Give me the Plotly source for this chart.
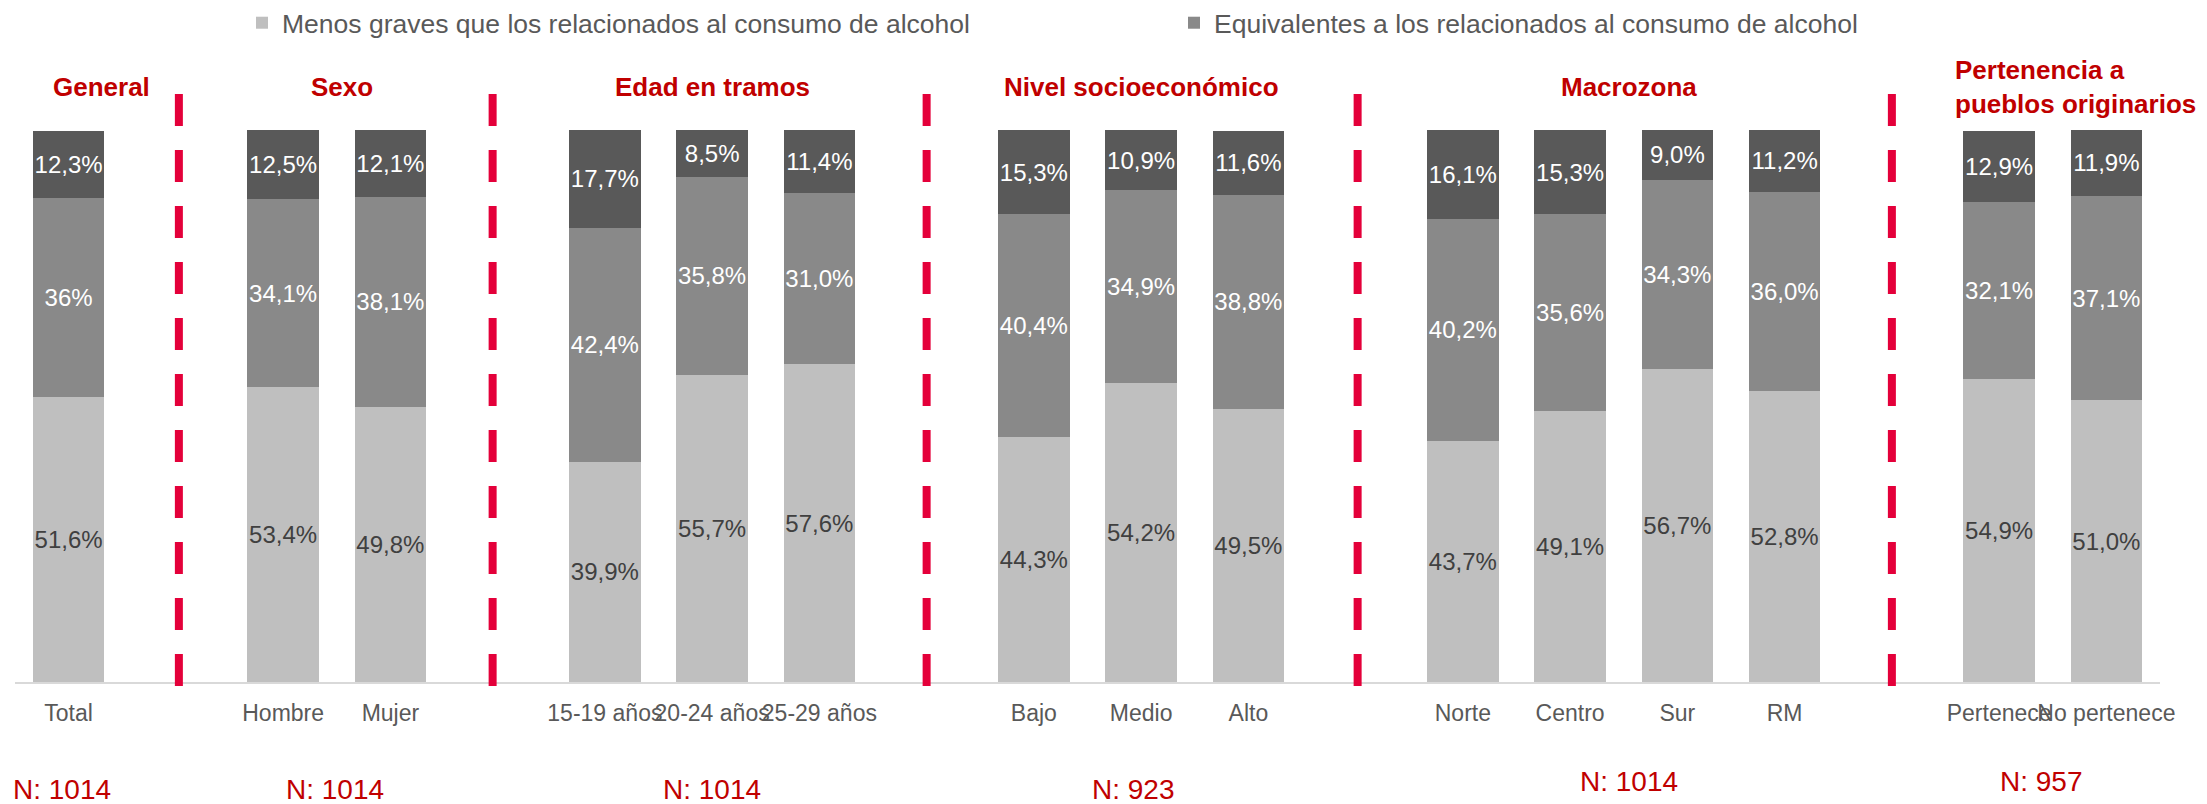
import plotly.graph_objects as go

# ---------------- data ----------------
groups = ["General", "Sexo", "Edad en tramos", "Nivel socioeconómico", "Macrozona",
          "Pertenencia a<br>pueblos originarios"]
group_categories = [
    ["Total"],
    ["Hombre", "Mujer"],
    ["15-19 años", "20-24 años", "25-29 años"],
    ["Bajo", "Medio", "Alto"],
    ["Norte", "Centro", "Sur", "RM"],
    ["Pertenece", "No pertenece"],
]
group_n = [1014, 1014, 1014, 923, 1014, 957]

menos_graves = [51.6, 53.4, 49.8, 39.9, 55.7, 57.6, 44.3, 54.2, 49.5, 43.7, 49.1, 56.7, 52.8, 54.9, 51.0]
equivalentes = [36.0, 34.1, 38.1, 42.4, 35.8, 31.0, 40.4, 34.9, 38.8, 40.2, 35.6, 34.3, 36.0, 32.1, 37.1]
mas_graves = [12.3, 12.5, 12.1, 17.7, 8.5, 11.4, 15.3, 10.9, 11.6, 16.1, 15.3, 9.0, 11.2, 12.9, 11.9]

series_names = [
    "Menos graves que los relacionados al consumo de alcohol",
    "Equivalentes a los relacionados al consumo de alcohol",
    "Más graves que los relacionados al consumo de alcohol",
]

# ---------------- helpers ----------------
def fmt(v):
    return f"{v:.1f}".replace(".", ",") + "%"

# slot positions: one empty slot between groups
categories, xpos, sep_slots, group_centers = [], [], [], []
slot = 0
for gi, cats in enumerate(group_categories):
    start = slot
    for c in cats:
        categories.append(c)
        xpos.append(slot)
        slot += 1
    group_centers.append((start + slot - 1) / 2)
    if gi < len(group_categories) - 1:
        sep_slots.append(slot)
        slot += 1
n_slots = slot

mid_text = [fmt(v) for v in equivalentes]
mid_text[0] = "36%"

FONT = "Liberation Sans, Arial, sans-serif"
RED_T = "#C00000"
RED_L = "#E4003A"
LBL = 24

fig = go.Figure()
fig.add_trace(go.Bar(
    x=xpos, y=menos_graves, name=series_names[0],
    marker=dict(color="#BFBFBF", line=dict(width=0)),
    text=[fmt(v) for v in menos_graves], textposition="inside", insidetextanchor="middle",
    textangle=0, textfont=dict(color="#404040", size=LBL, family=FONT),
    hoverinfo="skip",
))
fig.add_trace(go.Bar(
    x=xpos, y=equivalentes, name=series_names[1],
    marker=dict(color="#898989", line=dict(width=0)),
    text=mid_text, textposition="inside", insidetextanchor="middle",
    textangle=0, textfont=dict(color="white", size=LBL, family=FONT),
    hoverinfo="skip",
))
fig.add_trace(go.Bar(
    x=xpos, y=mas_graves, name=series_names[2], showlegend=False,
    marker=dict(color="#595959", line=dict(width=0)),
    text=[fmt(v) for v in mas_graves], textposition="inside", insidetextanchor="middle",
    textangle=0, textfont=dict(color="white", size=LBL, family=FONT),
    hoverinfo="skip",
))

# plot geometry
W, H = 2207, 804
ml, mr, mt, mb = 15, 47, 130, 122
ph = H - mt - mb
pw = W - ml - mr

def py(px_from_top):
    return (H - mb - px_from_top) / ph

def px_paper(s, shift=0):
    return (s + 0.5) / n_slots + shift / pw

# dashed separators
sep_shift = [3, -5, 0, 2, 0]
for i, s in enumerate(sep_slots):
    xx = px_paper(s, sep_shift[i])
    fig.add_shape(type="line", xref="paper", yref="paper",
                  x0=xx, x1=xx, y0=py(94), y1=py(686),
                  line=dict(color=RED_L, width=8, dash="32px,24px"))

# group titles
title_shift = [33, 5, 0, 0, 5, -100]
for gi, g in enumerate(groups):
    last = gi == len(groups) - 1
    fig.add_annotation(x=group_centers[gi], xref="x", y=py(87), yref="paper",
                       text=g, showarrow=False, xshift=title_shift[gi],
                       xanchor="left" if last else "center", yanchor="middle",
                       align="left", font=dict(family=FONT, size=26, color=RED_T, weight="bold"))

# N labels
n_shift = [-7, -2, 0, -8, 5, -11]
n_y = [789, 789, 789, 789, 781, 781]
for gi, n in enumerate(group_n):
    fig.add_annotation(x=group_centers[gi], xref="x", y=py(n_y[gi]), yref="paper",
                       text=f"N: {n}", showarrow=False, xshift=n_shift[gi],
                       xanchor="center", yanchor="middle",
                       font=dict(family=FONT, size=28, color=RED_T))

fig.update_layout(
    width=W, height=H,
    margin=dict(l=ml, r=mr, t=mt, b=mb, autoexpand=False),
    barmode="stack", bargap=0.333,
    plot_bgcolor="white", paper_bgcolor="white",
    font=dict(family=FONT, color="#595959"),
    uniformtext=dict(minsize=LBL, mode="show"),
    legend=dict(orientation="h", x=(242 - ml) / pw, xanchor="left",
                y=py(23), yanchor="middle", entrywidth=887,
                font=dict(size=26.5, color="#595959", family=FONT),
                bgcolor="rgba(0,0,0,0)", traceorder="normal"),
    xaxis=dict(range=[-0.5, n_slots - 0.5], tickvals=xpos, ticktext=categories,
               tickangle=0, showgrid=False, zeroline=False, showline=True,
               linecolor="#D9D9D9", linewidth=2, ticks="", ticklabelstandoff=9,
               tickfont=dict(size=23, color="#595959", family=FONT)),
    yaxis=dict(range=[0, 100], showgrid=False, zeroline=False, showticklabels=False,
               showline=False),
)

fig.write_html("out.html", config={"displayModeBar": False},
               post_script="document.body.style.margin='0';document.body.style.padding='0';")
